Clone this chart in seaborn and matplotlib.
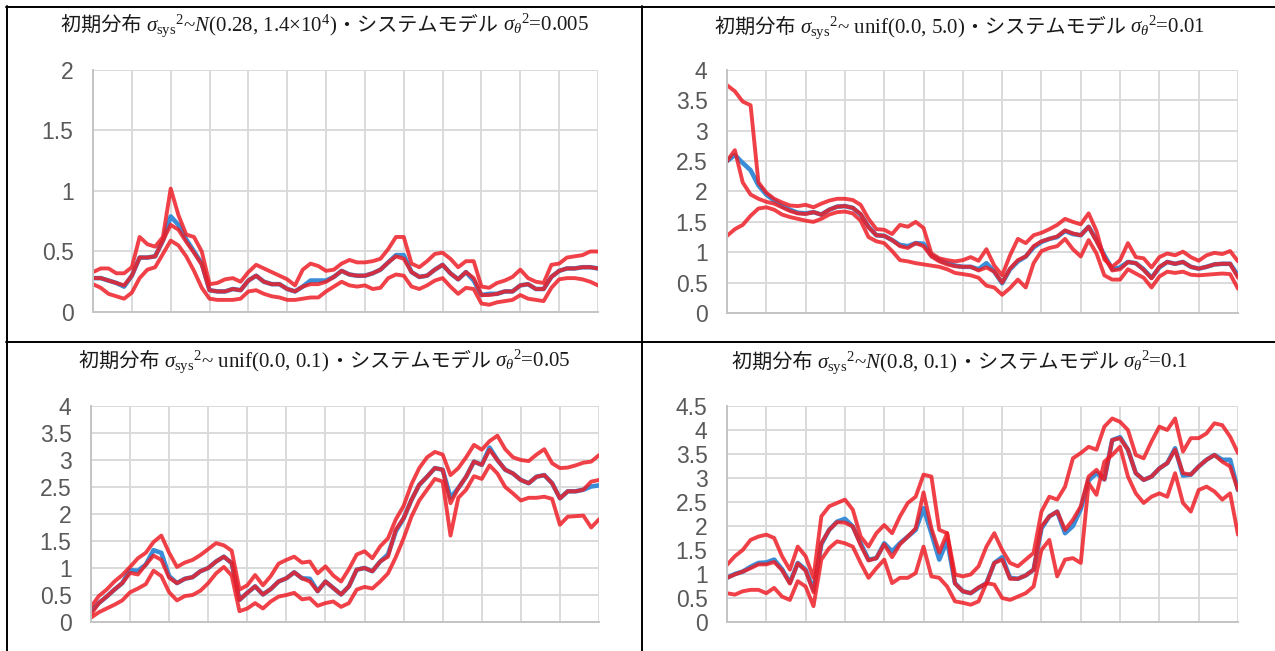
import numpy as np
import pandas as pd
import matplotlib
matplotlib.use("Agg")
import matplotlib.pyplot as plt
import seaborn as sns
from matplotlib.offsetbox import TextArea, HPacker, AnnotationBbox
from matplotlib.lines import Line2D

sns.set_theme(style="white")
plt.rcParams['font.family'] = ['Liberation Sans', 'DejaVu Sans']
plt.rcParams['mathtext.fontset'] = 'custom'
plt.rcParams['mathtext.rm'] = 'Liberation Serif'
plt.rcParams['mathtext.it'] = 'Liberation Serif:italic'
plt.rcParams['mathtext.bf'] = 'Liberation Serif:bold'

# ---------------- data (time steps 0..65) ----------------
steps = list(range(66))

p1_true = [0.28,0.28,0.26,0.24,0.21,0.30,0.45,0.45,0.46,0.59,
           0.79,0.72,0.60,0.50,0.40,0.18,0.17,0.17,0.19,0.18,
           0.26,0.30,0.25,0.23,0.23,0.19,0.17,0.21,0.26,0.26,
           0.26,0.29,0.34,0.31,0.30,0.30,0.32,0.35,0.41,0.47,
           0.47,0.33,0.29,0.30,0.35,0.39,0.32,0.27,0.33,0.26,
           0.14,0.15,0.15,0.17,0.17,0.22,0.23,0.19,0.19,0.29,
           0.34,0.36,0.36,0.37,0.37,0.36]
p1_mean = [0.28,0.28,0.26,0.24,0.22,0.30,0.45,0.45,0.46,0.59,
           0.72,0.68,0.58,0.49,0.39,0.18,0.17,0.17,0.19,0.18,
           0.26,0.30,0.25,0.23,0.23,0.19,0.17,0.21,0.23,0.23,
           0.25,0.29,0.34,0.31,0.30,0.30,0.32,0.35,0.41,0.46,
           0.44,0.33,0.29,0.30,0.35,0.39,0.32,0.27,0.33,0.28,
           0.14,0.14,0.15,0.17,0.17,0.22,0.23,0.19,0.19,0.29,
           0.34,0.36,0.36,0.37,0.37,0.36]
p1_upper = [0.33,0.36,0.36,0.32,0.32,0.37,0.62,0.56,0.54,0.62,
            1.02,0.80,0.64,0.62,0.50,0.23,0.24,0.27,0.28,0.25,
            0.33,0.39,0.36,0.33,0.30,0.27,0.22,0.35,0.40,0.38,
            0.34,0.35,0.40,0.43,0.41,0.41,0.42,0.44,0.52,0.62,
            0.62,0.40,0.37,0.42,0.48,0.49,0.44,0.37,0.42,0.42,
            0.21,0.20,0.24,0.26,0.29,0.35,0.28,0.25,0.24,0.39,
            0.40,0.45,0.46,0.47,0.50,0.50]
p1_lower = [0.23,0.20,0.15,0.13,0.11,0.16,0.28,0.35,0.37,0.48,
            0.59,0.55,0.46,0.34,0.20,0.11,0.10,0.10,0.10,0.11,
            0.17,0.18,0.15,0.13,0.12,0.10,0.10,0.11,0.12,0.12,
            0.17,0.21,0.25,0.22,0.21,0.22,0.19,0.20,0.28,0.31,
            0.30,0.21,0.19,0.22,0.26,0.28,0.21,0.15,0.20,0.19,
            0.07,0.06,0.08,0.09,0.10,0.14,0.11,0.10,0.09,0.20,
            0.27,0.28,0.28,0.27,0.25,0.22]

p2_true = [2.50,2.60,2.47,2.35,2.10,1.95,1.85,1.76,1.70,1.65,
           1.64,1.66,1.62,1.70,1.75,1.76,1.73,1.62,1.42,1.28,
           1.27,1.20,1.12,1.10,1.15,1.14,0.95,0.87,0.82,0.78,
           0.76,0.76,0.72,0.82,0.68,0.49,0.72,0.85,0.93,1.08,
           1.17,1.22,1.25,1.35,1.30,1.28,1.42,1.20,0.95,0.72,
           0.75,0.84,0.82,0.72,0.58,0.75,0.84,0.81,0.84,0.76,
           0.73,0.76,0.80,0.81,0.81,0.62]
p2_mean = [2.50,2.68,2.15,1.95,1.88,1.83,1.80,1.74,1.68,1.64,
           1.63,1.66,1.62,1.70,1.75,1.76,1.73,1.63,1.41,1.28,
           1.27,1.20,1.10,1.07,1.15,1.10,0.93,0.85,0.80,0.77,
           0.76,0.76,0.70,0.75,0.68,0.50,0.73,0.87,0.93,1.10,
           1.18,1.22,1.26,1.36,1.31,1.28,1.42,1.18,0.93,0.70,
           0.72,0.84,0.82,0.71,0.57,0.76,0.84,0.81,0.84,0.76,
           0.73,0.76,0.80,0.81,0.81,0.58]
p2_upper = [3.75,3.65,3.48,3.42,2.15,1.98,1.88,1.82,1.77,1.76,
            1.78,1.74,1.80,1.85,1.88,1.88,1.86,1.78,1.55,1.38,
            1.37,1.30,1.45,1.42,1.50,1.40,0.98,0.90,0.87,0.85,
            0.87,0.92,0.86,1.05,0.78,0.62,0.95,1.22,1.15,1.28,
            1.32,1.38,1.45,1.55,1.50,1.46,1.64,1.35,0.88,0.76,
            0.87,1.15,0.92,0.90,0.75,0.92,0.98,0.95,1.01,0.92,
            0.86,0.95,0.99,0.97,1.02,0.85]
p2_lower = [1.27,1.38,1.45,1.60,1.72,1.74,1.70,1.62,1.58,1.55,
            1.52,1.50,1.55,1.62,1.66,1.67,1.64,1.52,1.25,1.18,
            1.15,1.02,0.87,0.85,0.82,0.80,0.78,0.76,0.72,0.66,
            0.64,0.62,0.58,0.45,0.42,0.30,0.41,0.55,0.42,0.82,
            1.02,1.07,1.10,1.22,1.05,0.93,1.20,0.98,0.62,0.55,
            0.55,0.72,0.65,0.58,0.42,0.60,0.68,0.66,0.68,0.63,
            0.62,0.63,0.64,0.65,0.64,0.40]

p3_true = [0.20,0.35,0.47,0.60,0.72,0.96,0.95,1.06,1.33,1.28,
           0.85,0.72,0.80,0.83,0.94,1.00,1.12,1.21,1.09,0.41,
           0.54,0.66,0.51,0.61,0.75,0.81,0.92,0.81,0.80,0.57,
           0.75,0.63,0.51,0.66,0.97,1.00,0.94,1.12,1.25,1.68,
           1.92,2.26,2.54,2.69,2.85,2.82,2.30,2.48,2.69,2.97,
           2.91,3.23,3.00,2.82,2.75,2.63,2.57,2.69,2.72,2.57,
           2.29,2.42,2.42,2.45,2.51,2.53]
p3_mean = [0.14,0.35,0.47,0.60,0.72,0.91,0.88,1.06,1.23,1.15,
           0.82,0.72,0.80,0.83,0.94,1.00,1.12,1.21,1.09,0.41,
           0.54,0.66,0.51,0.61,0.75,0.81,0.92,0.81,0.75,0.57,
           0.75,0.63,0.51,0.66,0.97,1.00,0.94,1.12,1.21,1.71,
           1.92,2.26,2.54,2.69,2.85,2.82,2.20,2.48,2.69,2.97,
           2.91,3.19,3.00,2.82,2.75,2.63,2.57,2.69,2.72,2.57,
           2.29,2.42,2.42,2.45,2.60,2.63]
p3_upper = [0.28,0.48,0.60,0.75,0.87,1.02,1.18,1.28,1.48,1.60,
            1.28,1.02,1.10,1.15,1.24,1.35,1.46,1.42,1.32,0.60,
            0.68,0.87,0.68,0.85,1.08,1.15,1.21,1.10,1.12,0.90,
            1.03,0.86,0.75,0.98,1.25,1.31,1.18,1.40,1.55,1.90,
            2.15,2.55,2.85,3.05,3.15,3.10,2.72,2.85,3.05,3.28,
            3.19,3.35,3.45,3.20,3.05,3.00,2.98,3.10,3.20,2.94,
            2.85,2.86,2.90,2.95,2.97,3.09]
p3_lower = [0.08,0.18,0.25,0.32,0.40,0.55,0.62,0.70,0.95,0.85,
            0.55,0.40,0.48,0.50,0.58,0.72,0.90,1.02,0.86,0.20,
            0.25,0.35,0.25,0.38,0.47,0.50,0.54,0.42,0.44,0.30,
            0.35,0.38,0.28,0.35,0.60,0.65,0.62,0.75,0.90,1.20,
            1.55,1.95,2.25,2.45,2.65,2.60,1.60,2.30,2.45,2.70,
            2.65,2.90,2.75,2.50,2.38,2.25,2.30,2.30,2.32,2.28,
            1.80,1.95,1.96,1.97,1.75,1.90]

p4_true = [0.92,1.00,1.05,1.15,1.23,1.24,1.30,1.10,0.82,1.23,
           1.09,0.67,1.62,1.92,2.09,2.15,1.99,1.64,1.30,1.33,
           1.64,1.47,1.64,1.78,1.92,2.37,1.85,1.30,1.70,0.81,
           0.64,0.60,0.71,0.81,1.23,1.35,0.92,0.90,0.97,1.09,
           1.95,2.20,2.30,1.85,2.00,2.35,2.95,3.10,2.97,3.79,
           3.85,3.59,3.10,2.96,3.03,3.20,3.31,3.62,3.05,3.07,
           3.24,3.38,3.48,3.38,3.38,2.75]
p4_mean = [0.92,0.99,1.05,1.12,1.20,1.20,1.25,1.08,0.80,1.22,
           1.07,0.62,1.64,1.92,2.08,2.07,1.99,1.60,1.28,1.33,
           1.62,1.35,1.62,1.78,1.95,2.70,1.95,1.45,1.85,0.80,
           0.64,0.60,0.72,0.80,1.23,1.30,0.90,0.90,0.97,1.09,
           1.99,2.20,2.30,1.92,2.13,2.41,3.03,3.17,2.97,3.79,
           3.83,3.59,3.10,2.96,3.03,3.20,3.31,3.59,3.10,3.07,
           3.24,3.38,3.48,3.34,3.24,2.75]
p4_upper = [1.19,1.37,1.50,1.71,1.78,1.82,1.75,1.37,1.09,1.57,
            1.37,0.92,2.20,2.41,2.48,2.55,2.34,1.78,1.57,1.85,
            2.02,1.85,2.20,2.48,2.61,3.07,3.03,1.92,1.85,0.99,
            0.95,0.99,1.16,1.57,1.85,1.50,1.23,1.16,1.30,1.44,
            2.30,2.61,2.55,2.82,3.41,3.52,3.65,3.59,4.07,4.24,
            4.17,4.00,3.48,3.41,3.76,4.07,4.00,4.24,3.55,3.83,
            3.83,3.93,4.14,4.10,3.86,3.52]
p4_lower = [0.60,0.57,0.64,0.67,0.67,0.60,0.71,0.53,0.46,0.85,
            0.74,0.33,1.30,1.54,1.68,1.64,1.57,1.23,0.92,1.12,
            1.30,0.81,0.92,0.92,1.02,1.57,0.95,0.92,0.74,0.43,
            0.40,0.36,0.43,0.81,0.78,0.50,0.46,0.53,0.60,0.74,
            1.50,1.71,0.95,1.30,1.33,1.23,2.89,2.65,3.34,3.48,
            3.65,3.03,2.68,2.48,2.61,2.68,2.61,3.10,2.48,2.30,
            2.75,2.82,2.72,2.55,2.68,1.82]

titles = [
    ("初期分布 ", r"$\sigma_{\mathrm{sys}}{}^{2}$~$N$(0.28, 1.4×10$^{4}$)", "・システムモデル ", r"$\sigma_{\theta}{}^{2}$=0.005"),
    ("初期分布 ", r"$\sigma_{\mathrm{sys}}{}^{2}$~ unif(0.0, 5.0)", "・システムモデル ", r"$\sigma_{\theta}{}^{2}$=0.01"),
    ("初期分布 ", r"$\sigma_{\mathrm{sys}}{}^{2}$~ unif(0.0, 0.1)", "・システムモデル ", r"$\sigma_{\theta}{}^{2}$=0.05"),
    ("初期分布 ", r"$\sigma_{\mathrm{sys}}{}^{2}$~$N$(0.8, 0.1)", "・システムモデル ", r"$\sigma_{\theta}{}^{2}$=0.1"),
]
y_max = [2.0, 4.0, 4.0, 4.5]
series = [
    (p1_true, p1_mean, p1_upper, p1_lower),
    (p2_true, p2_mean, p2_upper, p2_lower),
    (p3_true, p3_mean, p3_upper, p3_lower),
    (p4_true, p4_mean, p4_upper, p4_lower),
]

# ---------------- layout (pixels) ----------------
W, H = 1275, 651
fig = plt.figure(figsize=(W / 100, H / 100), dpi=100)
fig.patch.set_facecolor("white")

boxes = [(93, 70, 598, 312), (727, 70, 1238, 313), (91, 406, 599, 622), (727, 406, 1238, 622)]
title_pos = [(325, 25), (960, 27), (325, 361), (960, 362)]

BLUE = "#3A8DD6"
RED = "#EE1C25"
GRID = "#DADADA"

for k in range(4):
    x0, y0, x1, y1 = boxes[k]
    ax = fig.add_axes([x0 / W, 1 - y1 / H, (x1 - x0) / W, (y1 - y0) / H])
    true_v, mean_v, up_v, lo_v = series[k]
    sns.lineplot(x=steps, y=true_v, ax=ax, color=BLUE, lw=3.3, solid_capstyle="round",
                 solid_joinstyle="round")
    for vals in (up_v, lo_v, mean_v):
        sns.lineplot(x=steps, y=vals, ax=ax, color=RED, lw=2.8, alpha=0.84,
                     solid_capstyle="round", solid_joinstyle="round")
    ax.set_xlim(0, 65)
    ax.set_ylim(0, y_max[k])
    ax.set_xticks(range(0, 66, 5))
    ax.set_xticklabels([])
    yt = np.arange(0, y_max[k] + 0.01, 0.5)
    ax.set_yticks(yt)
    ax.set_yticklabels([f"{v:g}" for v in yt])
    ax.set_xlabel("")
    ax.set_ylabel("")
    ax.grid(True, color=GRID, lw=1.4)
    ax.set_axisbelow(True)
    ax.tick_params(axis="both", length=0, labelsize=16.5, labelcolor="#595959", pad=14)
    for s in ("top", "right"):
        ax.spines[s].set_visible(False)
    for s in ("left", "bottom"):
        ax.spines[s].set_color("#C4C4C4")
        ax.spines[s].set_linewidth(1.4)

    a, b, c, d = titles[k]
    cjk = dict(family=["Noto Sans CJK JP"], size=14.5, color="#1a1a1a")
    ser = dict(family=["Liberation Serif"], size=15, color="#1a1a1a")
    hp = HPacker(children=[TextArea(a, textprops=cjk), TextArea(b, textprops=ser),
                           TextArea(c, textprops=cjk), TextArea(d, textprops=ser)],
                 align="baseline", pad=0, sep=0)
    cx, cy = title_pos[k]
    ab = AnnotationBbox(hp, (cx / W, 1 - cy / H), xycoords="figure fraction",
                        frameon=False, box_alignment=(0.5, 0.5), pad=0,
                        annotation_clip=False)
    ax.add_artist(ab)

# table borders
def hline(y, xa, xb):
    fig.add_artist(Line2D([xa / W, xb / W], [1 - y / H, 1 - y / H],
                          transform=fig.transFigure, color="black", lw=1.4))

def vline(x, ya, yb):
    fig.add_artist(Line2D([x / W, x / W], [1 - ya / H, 1 - yb / H],
                          transform=fig.transFigure, color="black", lw=1.4))

hline(7, 6, 1275)
hline(342, 6, 1275)
vline(7, 6, 651)
vline(642, 6, 651)

fig.savefig("out.png", dpi=100, facecolor="white")
